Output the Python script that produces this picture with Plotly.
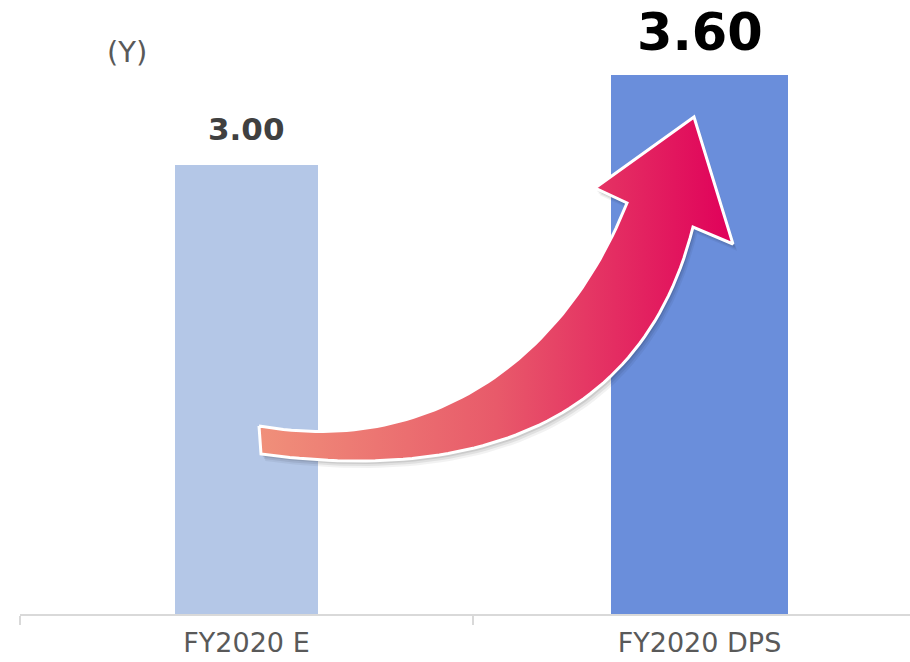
import numpy as np
import plotly.graph_objects as go

# ---- data ----
categories = ["FY2020 E", "FY2020 DPS"]
values = [3.00, 3.60]
bar_colors = ["#B4C7E7", "#6A8EDB"]
bar_widths = [0.316, 0.391]
label_sizes = [31, 51]
label_colors = ["#404040", "#000000"]
label_shifts = [17, 12]
unit_label = "(Y)"

W, H = 910, 662
ML, MR, MT, MB = 20, 0, 20, 48

fig = go.Figure()
fig.add_trace(go.Bar(
    x=categories, y=values, width=bar_widths,
    marker=dict(color=bar_colors, line=dict(width=0)),
    hoverinfo="skip", showlegend=False,
))

# ---- decorative curved arrow (screen-pixel overlay axes) ----
def bez(p0, p1, p2, p3, n=60):
    t = np.linspace(0, 1, n)[:, None]
    p0, p1, p2, p3 = map(np.array, (p0, p1, p2, p3))
    return ((1 - t) ** 3) * p0 + 3 * ((1 - t) ** 2) * t * p1 + 3 * (1 - t) * t ** 2 * p2 + t ** 3 * p3

top = bez((259, 426), (420, 455), (560, 370), (627, 203))
bot = bez((261, 454), (450, 480), (640, 440), (693, 227))[::-1]
head = np.array([(595, 188), (694, 117), (733, 244)])
poly = np.vstack([top, head, bot, top[:1]])
px, py = poly[:, 0], poly[:, 1]

for off, a in [(7, 0.05), (5, 0.07), (3, 0.09)]:
    fig.add_trace(go.Scatter(
        x=px + off * 0.6, y=py + off, xaxis="x2", yaxis="y2", mode="lines",
        fill="toself", fillcolor=f"rgba(0,0,0,{a})", line=dict(width=0),
        hoverinfo="skip", showlegend=False,
    ))

fig.add_trace(go.Scatter(
    x=px, y=py, xaxis="x2", yaxis="y2", mode="lines", fill="toself",
    fillgradient=dict(type="horizontal",
                      colorscale=[[0, "#F0907A"], [0.5, "#E85A6A"], [1, "#E0005A"]]),
    line=dict(color="white", width=3),
    hoverinfo="skip", showlegend=False,
))

ann = []
for c, v, s, col, sh in zip(categories, values, label_sizes, label_colors, label_shifts):
    ann.append(dict(
        x=c, y=v, xref="x", yref="y", text=f"<b>{v:.2f}</b>", showarrow=False,
        yanchor="bottom", yshift=sh, borderpad=0,
        font=dict(family="DejaVu Sans", size=s, color=col),
    ))
ann.append(dict(
    x=127, y=52, xref="x2", yref="y2", text=unit_label, showarrow=False,
    font=dict(family="DejaVu Sans", size=29, color="#595959"),
))

plot_h = H - MT - MB
px_per_unit = (614 - 165) / 3.0
fig.update_layout(
    width=W, height=H, margin=dict(l=ML, r=MR, t=MT, b=MB, autoexpand=False),
    paper_bgcolor="white", plot_bgcolor="white",
    bargap=0, showlegend=False,
    xaxis=dict(
        type="category", range=[-0.5, -0.5 + (W - ML - MR) / 453.0],
        tickson="boundaries", ticks="outside", ticklen=9, tickwidth=2,
        tickcolor="#D9D9D9", showline=True, linecolor="#D9D9D9", linewidth=2,
        showgrid=False, zeroline=False, ticklabelstandoff=4, automargin=False,
        tickfont=dict(family="DejaVu Sans", size=27, color="#595959"),
    ),
    yaxis=dict(range=[0, plot_h / px_per_unit], visible=False, showgrid=False,
               zeroline=False, automargin=False),
    xaxis2=dict(overlaying="x", range=[20, 910], visible=False),
    yaxis2=dict(overlaying="y", range=[614, 20], visible=False),
    annotations=ann,
)

fig.write_html("out.html", config={"displayModeBar": False},
               post_script="document.body.style.margin='0';")
